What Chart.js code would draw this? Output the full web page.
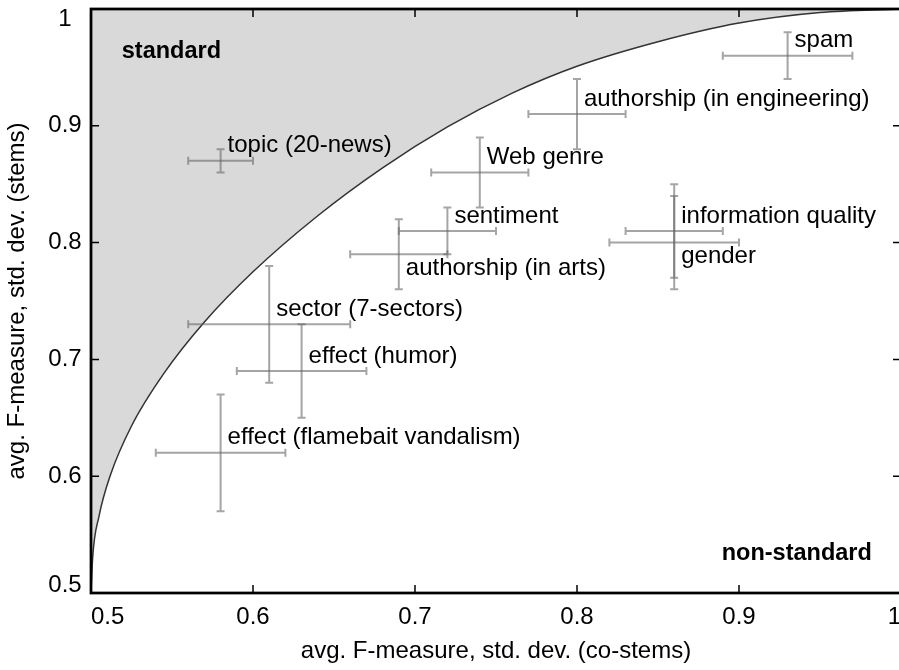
<!DOCTYPE html>
<html>
<head>
<meta charset="utf-8">
<script src="https://cdn.jsdelivr.net/npm/chart.js@4.4.1/dist/chart.umd.min.js"></script>
<style>
  html, body { margin: 0; padding: 0; background: #fff; overflow: hidden; }
  /* the right edge of the frame runs just past the window */
  #wrap { width: 911px; height: 670px; }
  #fmeasure { display: block; }
</style>
</head>
<body>
<div id="wrap"><canvas id="fmeasure"></canvas></div>
<script>
const tasks = [
  "topic (20-news)",
  "spam",
  "authorship (in engineering)",
  "Web genre",
  "sentiment",
  "authorship (in arts)",
  "information quality",
  "gender",
  "sector (7-sectors)",
  "effect (humor)",
  "effect (flamebait vandalism)",
];
const coStems    = [0.58, 0.93, 0.80, 0.74, 0.72, 0.69, 0.86, 0.86, 0.61, 0.63, 0.58];
const stems      = [0.87, 0.96, 0.91, 0.86, 0.81, 0.79, 0.81, 0.80, 0.73, 0.69, 0.62];
const coStemsDev = [0.02, 0.04, 0.03, 0.03, 0.03, 0.03, 0.03, 0.04, 0.05, 0.04, 0.04];
const stemsDev   = [0.01, 0.02, 0.03, 0.03, 0.02, 0.03, 0.04, 0.04, 0.05, 0.04, 0.05];
// where each task name sits relative to its point
const labelSide  = ["up", "up", "up", "up", "up", "down", "up", "down", "up", "up", "up"];

// boundary between the standard and non-standard regions
const boundaryX = [0.5, 0.501, 0.505, 0.512, 0.525, 0.545, 0.57, 0.6, 0.64, 0.68, 0.72, 0.76, 0.8, 0.85, 0.9, 0.95, 1.0];
const boundaryY = [0.5, 0.53, 0.566, 0.601, 0.643, 0.688, 0.732, 0.775, 0.823, 0.864, 0.899, 0.928, 0.951, 0.972, 0.988, 0.997, 1.0];

const xTicks = [0.5, 0.6, 0.7, 0.8, 0.9, 1.0];
const xTickLabels = ["0.5", "0.6", "0.7", "0.8", "0.9", "1"];
const yTicks = [0.5, 0.6, 0.7, 0.8, 0.9, 1.0];
const yTickLabels = ["0.5", "0.6", "0.7", "0.8", "0.9", "1"];

const FONT = '"Liberation Sans", Arial, Helvetica, sans-serif';

// error bars, frame, inward tick marks and all the in-plot text
const decorations = {
  id: "decorations",
  afterDatasetsDraw(chart) {
    const { ctx, chartArea: a, scales: { x, y } } = chart;
    const cap = 4;
    ctx.save();

    ctx.strokeStyle = "rgba(100,100,100,0.58)";
    ctx.lineWidth = 2;
    chart.data.datasets[1].data.forEach((p, i) => {
      const cx = x.getPixelForValue(p.x);
      const cy = y.getPixelForValue(p.y);
      const xl = x.getPixelForValue(p.x - coStemsDev[i]);
      const xr = x.getPixelForValue(p.x + coStemsDev[i]);
      const yt = y.getPixelForValue(p.y + stemsDev[i]);
      const yb = y.getPixelForValue(p.y - stemsDev[i]);
      ctx.beginPath();
      ctx.moveTo(xl, cy); ctx.lineTo(xr, cy);
      ctx.moveTo(xl, cy - cap); ctx.lineTo(xl, cy + cap);
      ctx.moveTo(xr, cy - cap); ctx.lineTo(xr, cy + cap);
      ctx.stroke();
      ctx.beginPath();
      ctx.moveTo(cx, yt); ctx.lineTo(cx, yb);
      ctx.moveTo(cx - cap, yt); ctx.lineTo(cx + cap, yt);
      ctx.moveTo(cx - cap, yb); ctx.lineTo(cx + cap, yb);
      ctx.stroke();
    });

    ctx.fillStyle = "#000";
    ctx.font = "24px " + FONT;
    ctx.textAlign = "left";
    ctx.textBaseline = "middle";
    chart.data.datasets[1].data.forEach((p, i) => {
      const cx = x.getPixelForValue(p.x);
      const cy = y.getPixelForValue(p.y);
      ctx.fillText(tasks[i], cx + 7, labelSide[i] === "up" ? cy - 15 : cy + 14);
    });

    ctx.font = "bold 23.5px " + FONT;
    ctx.fillText("standard", x.getPixelForValue(0.519), y.getPixelForValue(0.964));
    ctx.textAlign = "right";
    ctx.fillText("non-standard", x.getPixelForValue(0.982), y.getPixelForValue(0.534));

    // frame
    ctx.strokeStyle = "#000";
    ctx.lineWidth = 2.75;
    ctx.strokeRect(a.left, a.top, a.right - a.left, a.bottom - a.top);

    // tick marks pointing into the plot on all four sides
    ctx.lineWidth = 1.5;
    ctx.beginPath();
    xTicks.forEach(v => {
      const px = x.getPixelForValue(v);
      ctx.moveTo(px, a.bottom); ctx.lineTo(px, a.bottom - 8);
      ctx.moveTo(px, a.top); ctx.lineTo(px, a.top + 8);
    });
    yTicks.forEach(v => {
      const py = y.getPixelForValue(v);
      ctx.moveTo(a.left, py); ctx.lineTo(a.left + 8, py);
      ctx.moveTo(a.right, py); ctx.lineTo(a.right - 8, py);
    });
    ctx.stroke();

    // y tick labels, end labels pulled inside the axis span
    ctx.font = "24px " + FONT;
    ctx.textAlign = "center";
    ctx.textBaseline = "middle";
    yTicks.forEach((v, i) => {
      let py = y.getPixelForValue(v);
      if (i === 0) py -= 8;
      if (i === yTicks.length - 1) py += 10;
      ctx.fillText(yTickLabels[i], 65, py);
    });
    ctx.restore();
  }
};

new Chart(document.getElementById("fmeasure"), {
  data: {
    datasets: [
      {
        type: "line",
        data: boundaryX.map((v, i) => ({ x: v, y: boundaryY[i] })),
        borderColor: "#333",
        borderWidth: 1.5,
        backgroundColor: "#d9d9d9",
        fill: "end",
        pointRadius: 0,
        pointHoverRadius: 0,
        cubicInterpolationMode: "monotone",
      },
      {
        type: "scatter",
        data: coStems.map((v, i) => ({ x: v, y: stems[i] })),
        pointRadius: 0,
        pointHoverRadius: 0,
      },
    ],
  },
  options: {
    responsive: true,
    maintainAspectRatio: false,
    animation: false,
    devicePixelRatio: 1,
    layout: { autoPadding: false, padding: { top: 9, right: 2, left: 0, bottom: 0 } },
    plugins: { legend: { display: false }, tooltip: { enabled: false } },
    scales: {
      x: {
        type: "linear",
        min: 0.5,
        max: 1,
        afterBuildTicks: s => { s.ticks = xTicks.map(v => ({ value: v })); },
        afterFit: s => { s.height = 77; },
        grid: { display: false, drawTicks: false },
        border: { display: false },
        ticks: {
          align: "inner",
          autoSkip: false,
          maxRotation: 0,
          padding: 10,
          color: "#000",
          font: { family: FONT, size: 24 },
          callback: (v, i) => xTickLabels[i],
        },
        title: {
          display: true,
          text: "avg. F-measure, std. dev. (co-stems)",
          color: "#000",
          font: { family: FONT, size: 24 },
          padding: { top: 0, bottom: 4 },
        },
      },
      y: {
        type: "linear",
        min: 0.5,
        max: 1,
        afterBuildTicks: s => { s.ticks = yTicks.map(v => ({ value: v })); },
        afterFit: s => { s.width = 91; },
        grid: { display: false, drawTicks: false },
        border: { display: false },
        ticks: { display: false },
        title: {
          display: true,
          text: "avg. F-measure, std. dev. (stems)",
          color: "#000",
          font: { family: FONT, size: 24 },
          padding: { top: 3, bottom: 0 },
        },
      },
    },
  },
  plugins: [decorations],
});
</script>
</body>
</html>
